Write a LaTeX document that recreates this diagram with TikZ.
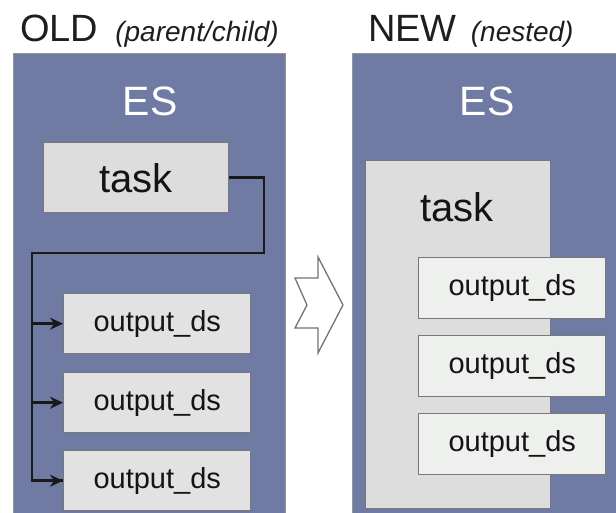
\documentclass[tikz,border=0pt]{standalone}
\usepackage{fontspec}
\setmainfont{Liberation Sans}
\usetikzlibrary{arrows.meta}

\definecolor{esblue}{RGB}{111,123,163}
\definecolor{esedge}{RGB}{150,150,150}
\definecolor{boxedge}{RGB}{120,120,120}
\definecolor{taskfill}{RGB}{221,221,221}
\definecolor{outfill}{RGB}{226,226,226}
\definecolor{nestfill}{RGB}{237,240,236}
\definecolor{titlecol}{RGB}{30,30,30}
\definecolor{textcol}{RGB}{20,20,20}

\tikzset{
  esbox/.style={draw=esedge, line width=1pt, fill=esblue},
  cell/.style={draw=boxedge, line width=1.4pt, inner sep=0pt, anchor=north west, text=textcol},
  taskbox/.style={cell, fill=taskfill, minimum width=185pt, minimum height=70pt,
                  font=\fontsize{40}{44}\selectfont},
  outbox/.style={cell, fill=outfill, minimum width=187pt, minimum height=60pt,
                 font=\fontsize{29}{32}\selectfont},
  nestbox/.style={cell, fill=nestfill, minimum width=187pt, minimum height=61pt,
                  font=\fontsize{29}{32}\selectfont},
  estext/.style={text=white, anchor=base, font=\fontsize{41}{44}\selectfont},
  title/.style={text=titlecol, anchor=base west, inner sep=0pt, font=\fontsize{38}{42}\selectfont},
  conn/.style={draw=black!90, line width=2.6pt},
  tip/.style={-{Stealth[length=13pt,width=12pt]}},
  chevron/.style={draw=black!55, line width=1.3pt, fill=white, line join=miter}
}

\begin{document}
\begin{tikzpicture}[x=1pt, y=-1pt]
  \useasboundingbox (0,0) rectangle (616,512);
  \clip (0,0) rectangle (616,512);

  % headings
  \node[title] (oldtitle) at (20,41) {OLD\hspace{17pt}{\fontsize{28}{30}\selectfont\itshape (parent/child)}};
  \node[title] (newtitle) at (368,41) {NEW\hspace{14pt}{\fontsize{28}{30}\selectfont\itshape (nested)}};

  % ---- old layout: parent/child ----
  \path[esbox] (13,53) rectangle (285,530);
  \node[estext] (es1) at (150,115) {ES};

  \node[taskbox] (t1) at (43,142) {task};
  \node[outbox] (o1) at (63,293) {output\_ds};
  \node[outbox] (o2) at (63,372) {output\_ds};
  \node[outbox] (o3) at (63,450) {output\_ds};

  \coordinate (turn) at (264,253);
  \coordinate (trunk) at (32,253);
  \draw[conn, line join=miter] (t1.east) -| (turn) -- (trunk) |- (o3.west);
  \draw[conn, tip] (trunk |- o3.west) -- (o3.west);
  \draw[conn, tip] (trunk |- o2.west) -- (o2.west);
  \draw[conn, tip] (trunk |- o1.west) -- (o1.west);

  % ---- notched arrow between the two layouts ----
  \draw[chevron] (295,278) -- (318,278) -- (318,257) -- (343,305)
                 -- (318,353) -- (318,328) -- (295,328) -- (307,305) -- cycle;

  % ---- new layout: nested ----
  \path[esbox] (352,53) rectangle (640,530);
  \node[estext] (es2) at (487,115) {ES};

  \node[taskbox, minimum height=348pt] (t2) at (365,160) {};
  \node[text=textcol, anchor=base, inner sep=0pt, font=\fontsize{40}{44}\selectfont]
       (t2label) at (457,221) {task};
  \node[nestbox] (n1) at (418,257) {output\_ds};
  \node[nestbox] (n2) at (418,335) {output\_ds};
  \node[nestbox] (n3) at (418,413) {output\_ds};
\end{tikzpicture}
\end{document}
